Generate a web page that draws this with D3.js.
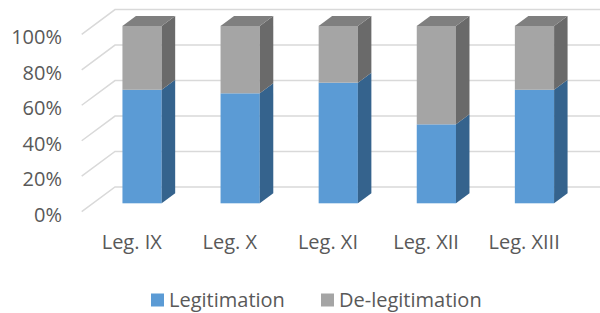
<!DOCTYPE html>
<html>
<head>
<meta charset="utf-8">
<script src="https://cdn.jsdelivr.net/npm/d3@7"></script>
<style>
  body { margin: 0; background: #fff; }
  svg { display: block; font-family: "Open Sans", sans-serif; }
</style>
</head>
<body>
<svg id="chart" width="600" height="313"></svg>
<script>
const categories = ["Leg. IX", "Leg. X", "Leg. XI", "Leg. XII", "Leg. XIII"];
const legitimation = [0.64, 0.62, 0.68, 0.445, 0.64];
const delegitimation = [0.36, 0.38, 0.32, 0.555, 0.36];
const yTicks = [0, 0.2, 0.4, 0.6, 0.8, 1];
const seriesNames = ["Legitimation", "De-legitimation"];

const colors = {
  blue: { front: "#5b9bd5", side: "#35638d", top: "#4a80b3" },
  gray: { front: "#a5a5a5", side: "#6a6a6a", top: "#7f7f7f" }
};

const svg = d3.select("#chart");

// oblique projection: depth d in [0,1] shifts right and up
const DX = 33.3, DY = 24.7;
const barD0 = 0.34, barD1 = 0.745;

const x = d3.scaleBand()
  .domain(categories)
  .range([81.7, 572.2])
  .paddingInner(0.6)
  .paddingOuter(0.3);

const y = d3.scaleLinear().domain([0, 1]).range([211.7, 34.3]);

function proj(px, v, d) {
  return [px + DX * d, y(v) - DY * d];
}

// gridlines: left wall diagonal + back wall
const grid = svg.append("g");
yTicks.forEach(function(v) {
  const a = proj(81.7, v, 0);
  const b = proj(81.7, v, 1);
  grid.append("polyline")
    .attr("points", [a, b, [605, b[1]]].map(p => p.join(",")).join(" "))
    .style("fill", "none")
    .style("stroke", "#d9d9d9")
    .style("stroke-width", 1.5);
});

// y tick labels
svg.append("g")
  .selectAll("text")
  .data(yTicks)
  .enter()
  .append("text")
  .attr("x", 62)
  .attr("y", d => y(d) + 3)
  .attr("dy", "0.35em")
  .attr("text-anchor", "end")
  .style("font-size", "20px")
  .style("fill", "#595959")
  .text(d3.format(".0%"));

// bars
const stacks = categories.map(function(c, i) {
  return [
    { v0: 0, v1: legitimation[i], c: colors.blue },
    { v0: legitimation[i], v1: legitimation[i] + delegitimation[i], c: colors.gray }
  ];
});

const bars = svg.append("g");
categories.forEach(function(cat, i) {
  const xl = x(cat), xr = xl + x.bandwidth();
  stacks[i].forEach(function(s, j) {
    const f0 = proj(xl, s.v0, barD0), f1 = proj(xr, s.v1, barD0);
    bars.append("rect")
      .attr("x", f0[0])
      .attr("y", f1[1])
      .attr("width", f1[0] - f0[0])
      .attr("height", f0[1] - f1[1])
      .style("fill", s.c.front);
    const side = [
      proj(xr, s.v0, barD0), proj(xr, s.v0, barD1),
      proj(xr, s.v1, barD1), proj(xr, s.v1, barD0)
    ];
    bars.append("polygon")
      .attr("points", side.map(p => p.join(",")).join(" "))
      .style("fill", s.c.side);
    if (j === stacks[i].length - 1) {
      const top = [
        proj(xl, s.v1, barD0), proj(xl, s.v1, barD1),
        proj(xr, s.v1, barD1), proj(xr, s.v1, barD0)
      ];
      bars.append("polygon")
        .attr("points", top.map(p => p.join(",")).join(" "))
        .style("fill", s.c.top);
    }
  });
});

// category labels
svg.append("g")
  .selectAll("text")
  .data(categories)
  .enter()
  .append("text")
  .attr("x", d => x(d) + x.bandwidth() / 2 + 1)
  .attr("y", 248.5)
  .attr("text-anchor", "middle")
  .style("font-size", "20px")
  .style("fill", "#595959")
  .text(d => d);

// legend
const legendX = [151, 321];
const legend = svg.append("g");
seriesNames.forEach(function(name, i) {
  legend.append("rect")
    .attr("x", legendX[i])
    .attr("y", 293.5)
    .attr("width", 13)
    .attr("height", 13)
    .style("fill", i === 0 ? colors.blue.front : colors.gray.front);
  legend.append("text")
    .attr("x", legendX[i] + 18)
    .attr("y", 306.5)
    .style("font-size", "20px")
    .style("fill", "#595959")
    .text(name);
});
</script>
</body>
</html>
